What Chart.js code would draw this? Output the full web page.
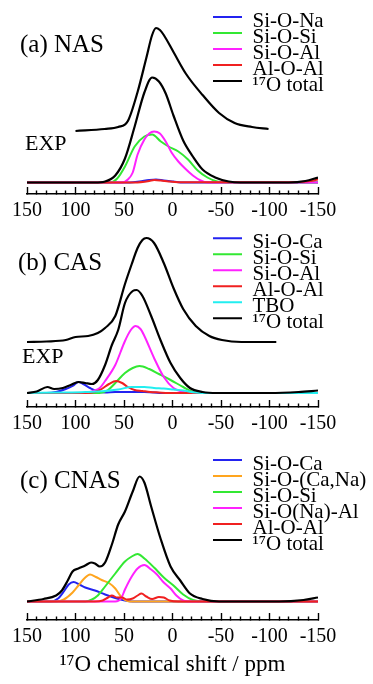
<!DOCTYPE html>
<html>
<head>
<meta charset="utf-8">
<title>17O NMR spectra of NAS, CAS and CNAS glasses</title>
<script src="https://cdn.jsdelivr.net/npm/chart.js@4.4.1/dist/chart.umd.min.js"></script>
<style>
  html, body { margin: 0; padding: 0; background: #fff; }
  #wrap { position: relative; width: 373px; height: 684px; overflow: hidden; }
  canvas { position: absolute; left: 0; }
</style>
</head>
<body>
<div id="wrap">
  <canvas id="nas" width="373" height="240" style="top:0"></canvas>
  <canvas id="cas" width="373" height="240" style="top:213px"></canvas>
  <canvas id="cnas" width="373" height="258" style="top:426px"></canvas>
</div>
<script>
// [shift (ppm), intensity] pairs

// (a) NAS
const nasSiONa = [[150,0],[44,0],[34,1],[24,2.5],[17,3],[9,2],[-1,1],[-11,0],[-150,0]];
const nasSiOSi = [[150,0],[64.5,0],[57,4],[49,16],[39,36],[29,46],[21,48],[12,41],[4,36],[-6,31],[-16,23],[-26,12],[-36,5],[-46,1],[-56,0],[-150,0]];
const nasSiOAl = [[150,0],[52,0],[46,3],[41,10],[36,28],[29,43],[24,49],[19,51],[13,49],[7,41],[1,30],[-6,21],[-13,14],[-21,7],[-29,2],[-36,0],[-150,0]];
const nasAlOAl = [[150,0],[39,0],[24,1.5],[19,2.5],[12,2],[4,1],[-6,0.3],[-120,0.3],[-140,1.2],[-150,3]];
const nasTotal = [[150,0],[80,0],[69.5,1],[59,7],[49,24],[39,56],[29,90],[21,105],[14,101],[7,89],[-1,67],[-11,42],[-21,26],[-31,13],[-44,5],[-58,1],[-70,0],[-120,0],[-137,1.5],[-150,5]];
const nasExp = [[100,0],[70,2],[56,4],[46,10],[36,39],[27,73],[21,96],[17,103],[13,101],[9,96],[-1,79],[-14,57],[-31,36],[-48,18],[-64,8],[-82,4],[-99,2]];
const nasExpLift = 51.5;

// (b) CAS
const casSiOCa = [[150,0],[130,0],[120,1],[110,4],[103,7],[97,11],[92,9],[85,5],[77,1.5],[69.5,0.5],[59,1],[29,1],[9,0],[-150,0]];
const casSiOSi = [[150,0],[75,0],[66.5,3],[59,10],[49,20],[41,25],[34,27],[24,24],[14,19],[2,13],[-11,6],[-21,1],[-31,0],[-150,0]];
const casSiOAl = [[150,0],[90,0],[82,2],[75,5],[69.5,12],[59,28],[49,52],[43,63],[38,67],[33,64],[29,57],[19,35],[9,16],[-1,5],[-11,1],[-21,0],[-150,0]];
const casAlOAl = [[150,0],[90,0],[80,1],[73,4],[65.5,9],[58,12],[52,10],[46,6],[39,3],[31,2],[23,1],[14,0.5],[4,0],[-150,0]];
const casTBO = [[150,0],[110,0.5],[90,1],[69.5,2],[56,3.5],[42,6],[29,6],[19,5],[9,4.5],[-1,3.5],[-11,2.5],[-24,0.5],[-36,0],[-150,0]];
const casTotal = [[150,0],[140,1.5],[129,6],[122,4],[113,5],[105,8],[97,11],[90,10],[83,9],[77,13],[69.5,28],[62.5,48],[56,63],[49,90],[41,102],[37,103],[31,97],[22,77],[12,52],[2,30],[-8,15],[-18,5],[-31,1],[-46,0],[-100,0],[-130,1],[-150,2.5]];
const casExp = [[150,0],[130,0.5],[110,2],[100,5],[87,6],[77,9],[69.5,14],[59,26],[49,58],[42,78],[36,94],[31,102],[27,104],[19,99],[9,79],[-1,54],[-11,33],[-24,16],[-38,6],[-51,2],[-71,0],[-107,0]];
const casExpLift = 51;

// (c) CNAS
const cnasSiOCa = [[150,0],[125,0],[118,3],[112,10],[107,17],[102,19.5],[96,17],[90,14],[80,11],[69.5,7],[59,3.5],[49,1],[41,0],[-150,0]];
const cnasSiOCaNa = [[150,0],[120,0],[112,2],[103,9],[97,16],[91,23],[85,27],[79,24.5],[73,21.5],[65.5,18.5],[59,13],[54,6],[49,1.5],[44,0],[-150,0]];
const cnasSiOSi = [[150,0],[90,0],[83,2],[77,6],[69.5,15],[59,28],[49,40],[42,45],[36,47.5],[29,43],[19,34],[9,24],[-1,16],[-11,7],[-21,1.5],[-31,0],[-150,0]];
const cnasSiONaAl = [[150,0],[59,0],[53,3],[49,12],[42,25],[36,33],[29,36.5],[22,32],[16,27],[9,19],[2,13],[-4,6],[-11,1],[-16,0],[-150,0]];
const cnasAlOAl = [[150,0],[80,0],[72,1],[66.5,4],[62.5,6],[57,4],[52,4],[47,2],[41,3],[36,6],[32,8],[27,5],[21,2.5],[14,4.5],[9,4],[3,1],[-6,0],[-150,0]];
const cnasTotal = [[150,0],[133,2.5],[120,6],[114,11],[108,21],[103,30],[97,33],[90,36],[84,39],[80,38],[75,35],[69.5,39],[62.5,57],[56,77],[49,90],[41,110],[34,125],[29,119],[22,95],[12,62],[2,35],[-8,21],[-18,8],[-31,2.5],[-48,0],[-110,0],[-135,1.5],[-150,4]];

const shiftTicks = [150, 100, 50, 0, -50, -100, -150];

const serif = "'Liberation Serif', 'DejaVu Serif', serif";
Chart.defaults.font.family = serif;
Chart.defaults.color = '#000';

const BLUE = '#2323f0', GREEN = '#33e833', MAGENTA = '#ff22ff', RED = '#f02020',
      CYAN = '#22eef0', ORANGE = '#ffa51e', BLACK = '#000000';

function line(label, pts, color, lift) {
  return {
    label: label,
    data: pts.map(p => ({ x: p[0], y: p[1] + (lift || 0) })),
    borderColor: color,
    backgroundColor: color,
    borderWidth: color === BLACK ? 2.2 : 2,
    pointRadius: 0,
    cubicInterpolationMode: 'monotone',
    fill: false
  };
}

// later entries are drawn over earlier ones, like the total over its parts
function stackOrder(sets) {
  sets.forEach((d, i) => { d.order = sets.length - i; });
  return sets;
}

// legend entries in dataset order, EXP left out, text dropped a bit under the swatch
function legendItems(chart) {
  return Chart.defaults.plugins.legend.labels.generateLabels(chart)
    .filter(it => chart.data.datasets[it.datasetIndex].label !== 'EXP')
    .sort((a, b) => a.datasetIndex - b.datasetIndex)
    .map(it => Object.assign(it, { text: ['', it.text], lineWidth: 0 }));
}

// puts the legend box inside the plot, top right
const legendSpot = {
  id: 'legendSpot',
  afterLayout(chart, args, opts) {
    const lg = chart.legend;
    if (!lg) return;
    lg.left = opts.x;
    lg.top = opts.y;
    lg.right = opts.x + 170;
    lg.bottom = opts.y + 150;
  }
};

// panel names and the EXP tag
const panelText = {
  id: 'panelText',
  afterDraw(chart, args, opts) {
    const ctx = chart.ctx;
    ctx.save();
    ctx.fillStyle = '#000';
    ctx.textBaseline = 'alphabetic';
    ctx.textAlign = 'left';
    (opts.items || []).forEach(t => {
      ctx.font = t.size + 'px ' + serif;
      ctx.fillText(t.text, t.x, t.y);
    });
    ctx.restore();
  }
};

function shiftAxis(height, title) {
  return {
    type: 'linear',
    reverse: true,
    min: -150,
    max: 150,
    afterFit: s => { s.height = height; },
    ticks: {
      stepSize: 10,
      autoSkip: false,
      maxRotation: 0,
      minRotation: 0,
      padding: 12,
      color: '#000',
      font: { family: serif, size: 20 },
      callback: v => shiftTicks.includes(v) ? String(v) : ''
    },
    grid: {
      drawOnChartArea: false,
      tickLength: -7,
      tickColor: '#000',
      tickWidth: 1.4,
      // short ticks every 10 ppm, long ones at the labels
      tickBorderDash: c => (c.tick && shiftTicks.includes(c.tick.value)) ? [] : [4, 20]
    },
    border: { display: true, color: '#000', width: 1.5 },
    title: title ? {
      display: true,
      text: title,
      color: '#000',
      font: { family: serif, size: 23 },
      padding: { top: 0, bottom: 3 }
    } : { display: false }
  };
}

function panel(id, datasets, yMin, yMax, xHeight, padBottom, title, legendPos, texts) {
  return new Chart(document.getElementById(id), {
    type: 'line',
    data: { datasets: stackOrder(datasets) },
    options: {
      responsive: false,
      devicePixelRatio: 1,
      animation: false,
      layout: { padding: { top: 10, left: 20, right: 55, bottom: padBottom } },
      scales: {
        x: shiftAxis(xHeight, title),
        y: { type: 'linear', display: false, min: yMin, max: yMax }
      },
      plugins: {
        tooltip: { enabled: false },
        legend: {
          position: 'chartArea',
          align: 'start',
          labels: {
            generateLabels: legendItems,
            boxWidth: 29,
            boxHeight: 2,
            padding: 7,
            color: '#000',
            font: { family: serif, size: 21, lineHeight: '4.5px' }
          }
        },
        legendSpot: legendPos,
        panelText: { items: texts }
      }
    },
    plugins: [legendSpot, panelText]
  });
}

panel('nas', [
  line('Si-O-Na', nasSiONa, BLUE),
  line('Si-O-Si', nasSiOSi, GREEN),
  line('Si-O-Al', nasSiOAl, MAGENTA),
  line('Al-O-Al', nasAlOAl, RED),
  line('\u00B9\u2077O total', nasTotal, BLACK),
  line('EXP', nasExp, BLACK, nasExpLift)
], -11.5, 172.5, 40, 6, null, { x: 206, y: -0.5 }, [
  { text: '(a) NAS', x: 20, y: 52, size: 25 },
  { text: 'EXP', x: 25, y: 150, size: 22 }
]);

panel('cas', [
  line('Si-O-Ca', casSiOCa, BLUE),
  line('Si-O-Si', casSiOSi, GREEN),
  line('Si-O-Al', casSiOAl, MAGENTA),
  line('Al-O-Al', casAlOAl, RED),
  line('TBO', casTBO, CYAN),
  line('\u00B9\u2077O total', casTotal, BLACK),
  line('EXP', casExp, BLACK, casExpLift)
], -14, 170, 40, 6, null, { x: 206, y: 7.8 }, [
  { text: '(b) CAS', x: 18, y: 57, size: 25 },
  { text: 'EXP', x: 22, y: 150, size: 22 }
]);

panel('cnas', [
  line('Si-O-Ca', cnasSiOCa, BLUE),
  line('Si-O-(Ca,Na)', cnasSiOCaNa, ORANGE),
  line('Si-O-Si', cnasSiOSi, GREEN),
  line('Si-O(Na)-Al', cnasSiONaAl, MAGENTA),
  line('Al-O-Al', cnasAlOAl, RED),
  line('\u00B9\u2077O total', cnasTotal, BLACK)
], -18.5, 165.5, 62, 2, '\u00B9\u2077O chemical shift / ppm', { x: 206, y: 16.5 }, [
  { text: '(c) CNAS', x: 20, y: 62, size: 25 }
]);
</script>
</body>
</html>
